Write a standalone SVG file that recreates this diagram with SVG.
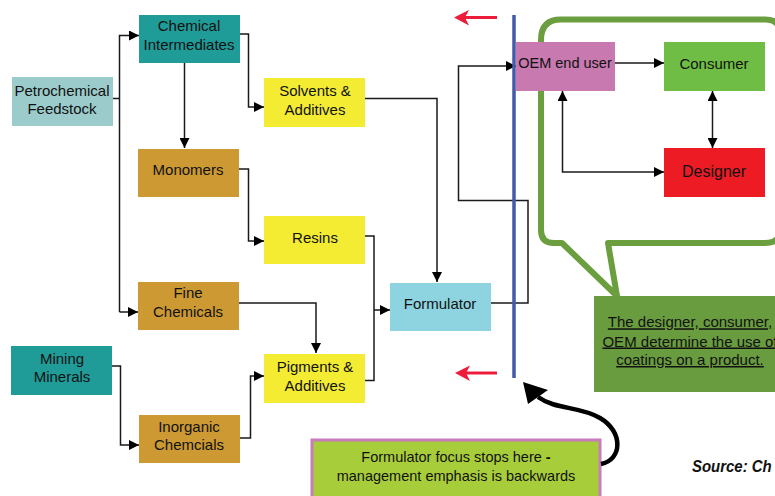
<svg xmlns="http://www.w3.org/2000/svg" width="775" height="496" viewBox="0 0 775 496">
<defs>
<marker id="ah" viewBox="0 0 10 10" refX="10" refY="5" markerWidth="10" markerHeight="10" markerUnits="userSpaceOnUse" orient="auto-start-reverse">
<path d="M0,0 L10,5 L0,10 Z" fill="#000"/>
</marker>
<style>
text{font-family:"Liberation Sans",Arial,sans-serif;font-size:15px;fill:#111;text-anchor:middle}
.c{fill:none;stroke:#1a1a1a;stroke-width:1.5}
.a{marker-end:url(#ah)}
.ul{text-decoration:underline}
.red{stroke:#ed1c3a;stroke-width:3}
.redh{fill:#ed1c3a}
</style>
</defs>
<rect width="775" height="496" fill="#fff"/>

<!-- callout bubble -->
<path d="M541,40 Q541,19.5 561,19.5 H765 Q781,19.5 781,35 V228 Q781,243 765,243 H608 L617,296 L562,243 H554 Q541,243 541,230 Z" fill="none" stroke="#6a9e3f" stroke-width="6" stroke-linejoin="round"/>

<g id="connectors">
<path class="c" d="M105,98.5 H119.5"/>
<path class="c a" d="M119.5,312 V35.5 H139"/>
<path class="c a" d="M119.5,312 H138"/>
<path class="c a" d="M184.5,63 V148"/>
<path class="c a" d="M240,34 H248.5 V107 H264"/>
<path class="c a" d="M239,169 H248.5 V241 H264"/>
<path class="c a" d="M365,98.5 H437 V282"/>
<path class="c" d="M365,236 H374 V380.5 H365"/>
<path class="c a" d="M374,310 H390"/>
<path class="c a" d="M239,303 H316 V353"/>
<path class="c a" d="M106,366 H120.5 V445 H139"/>
<path class="c a" d="M240,438 H250.5 V376 H264"/>
<path class="c a" d="M491,303 H528 V200.5 H458.5 V66 H516"/>
<path class="c a" d="M615,63 H664"/>
<path class="c" d="M712.5,91 V148" marker-start="url(#ah)" marker-end="url(#ah)"/>
<path class="c a" d="M562.5,91 V172 H664" marker-start="url(#ah)"/>
</g>

<g id="n-petro"><rect x="12" y="77" width="101" height="49" fill="#9bcccb"/><text x="62" y="95.5">Petrochemical</text><text x="62" y="114">Feedstock</text></g>
<g id="n-chemint"><rect x="139" y="15" width="101" height="48" fill="#1f9b98"/><text x="189" y="31">Chemical</text><text x="189" y="50">Intermediates</text></g>
<g id="n-monomers"><rect x="138" y="149" width="101" height="48" fill="#cc9933"/><text x="188" y="175">Monomers</text></g>
<g id="n-solvents"><rect x="264" y="78" width="101" height="49" fill="#f3ec33"/><text x="315" y="96">Solvents &amp;</text><text x="315" y="114.5">Additives</text></g>
<g id="n-resins"><rect x="264" y="216" width="101" height="48" fill="#f3ec33"/><text x="315" y="243">Resins</text></g>
<g id="n-fine"><rect x="138" y="282" width="101" height="48" fill="#cc9933"/><text x="188" y="298">Fine</text><text x="188" y="316.5">Chemicals</text></g>
<g id="n-mining"><rect x="11" y="346" width="101" height="49" fill="#1f9b98"/><text x="62" y="363.5">Mining</text><text x="62" y="382">Minerals</text></g>
<g id="n-inorganic"><rect x="139" y="415" width="101" height="48" fill="#cc9933"/><text x="189" y="431.5">Inorganic</text><text x="189" y="450">Chemcials</text></g>
<g id="n-pigments"><rect x="264" y="354" width="101" height="49" fill="#f3ec33"/><text x="315" y="372">Pigments &amp;</text><text x="315" y="390.5">Additives</text></g>
<g id="n-formulator"><rect x="390" y="283" width="101" height="48" fill="#8dd4e0"/><text x="440" y="309">Formulator</text></g>

<!-- blue boundary line -->
<line x1="514" y1="15" x2="514" y2="378" stroke="#4459a8" stroke-width="3.5"/>

<g id="n-oem"><rect x="516" y="42" width="99" height="49" fill="#c779b0"/><text x="565" y="68" style="font-size:14.5px">OEM end user</text></g>
<g id="n-consumer"><rect x="664" y="42" width="101" height="49" fill="#6fbd44"/><text x="714" y="68.5">Consumer</text></g>
<g id="n-designer"><rect x="664" y="148" width="101" height="49" fill="#ed1c24"/><text x="714" y="176.5" style="font-size:16px">Designer</text></g>

<!-- red arrows -->
<g id="red-arrows">
<line class="red" x1="497" y1="17.5" x2="465" y2="17.5"/>
<polygon class="redh" points="454,17.5 469,10 465,17.5 469,25.5"/>
<line class="red" x1="497" y1="373" x2="466" y2="373"/>
<polygon class="redh" points="455,373 470,365.5 466,373 470,381"/>
</g>

<g id="n-note"><rect x="594" y="296" width="185" height="96" fill="#699c3f"/>
<text class="ul" x="690" y="327.3">The designer, consumer,</text>
<text class="ul" x="690" y="346.5">OEM determine the use of</text>
<text class="ul" x="690" y="365">coatings on a product. </text></g>

<g id="n-focus"><rect x="312" y="440" width="288" height="60" fill="#a8cd3a" stroke="#c87dbb" stroke-width="3"/>
<text x="456" y="461.5" style="font-size:14.5px">Formulator focus stops here <tspan style="font-weight:bold">-</tspan></text>
<text x="456" y="480.5" style="font-size:14.5px">management emphasis is backwards</text></g>

<!-- curved arrow -->
<path d="M601,464 C622,460 624,432 600,418 C580,406 556,410 538,397" fill="none" stroke="#000" stroke-width="4.5"/>
<polygon points="523,382 528,404 548,390" fill="#000"/>

<text transform="translate(692,472) scale(0.88,1)" x="0" y="0" style="text-anchor:start;font-weight:bold;font-style:italic;font-size:17px">Source: Ch</text>
</svg>
